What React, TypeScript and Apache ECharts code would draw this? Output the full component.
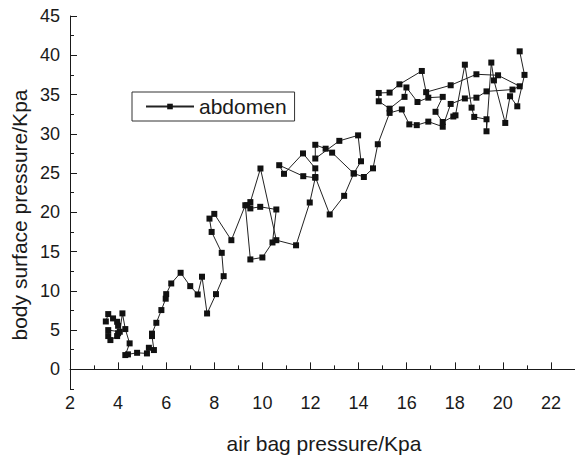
import React, { useEffect, useRef } from "react";
import * as echarts from "echarts";

// air bag pressure (Kpa), in recorded order
const airBagPressure: number[] = [
  3.49, 3.59, 3.79, 3.96, 4.0, 4.0, 3.96, 3.68, 3.59, 3.59, 4.07, 4.18, 4.3, 4.48, 4.3, 4.41, 4.79, 5.2, 5.28, 5.49,
  5.41, 5.41, 5.59, 5.8, 5.98, 6.0, 6.21, 6.6, 7.0, 7.31, 7.49, 7.7, 8.07, 8.39, 8.31, 7.89, 7.8, 8.0, 8.71, 9.29,
  9.5, 10.0, 10.42, 10.58, 9.91, 9.5, 9.37, 9.5, 9.92, 10.58, 11.4, 11.97, 12.2, 11.7, 10.7, 10.9, 11.69, 12.2, 12.2, 12.8,
  13.4, 13.8, 12.9, 12.63, 12.2, 12.2, 13.2, 13.98, 14.1, 13.8, 14.22, 14.6,
  14.8, 15.29, 15.8, 16.11, 16.42, 16.9, 17.5, 17.83, 18.42, 18.9, 19.32, 20.4, 20.7, 19.8, 18.9, 17.83, 16.81, 16.63,
  15.7, 15.29, 14.84, 14.84, 15.29, 15.91, 15.99, 16.45, 16.9, 17.5, 17.2, 17.5, 17.94, 18.03, 18.42, 18.7, 18.81, 19.32,
  19.32, 19.52, 19.63, 20.1, 20.3, 20.6, 20.9, 20.7,
];

// body surface pressure (Kpa), same order
const bodySurfacePressure: number[] = [
  6.1, 7.04, 6.49, 6.06, 5.55, 4.6, 4.24, 3.73, 4.24, 5.0, 4.79, 7.13, 5.13, 3.31, 1.82, 1.91, 2.11, 2.03, 2.75, 2.46,
  4.24, 4.55, 5.93, 7.55, 9.0, 9.58, 10.94, 12.3, 10.6, 9.54, 11.8, 7.12, 9.58, 11.87, 14.84, 17.5, 19.2, 19.8, 16.45, 20.9,
  14.0, 14.25, 16.16, 20.36, 20.7, 20.5, 20.9, 21.3, 25.58, 16.45, 15.8, 21.25, 24.4, 24.6, 26.0, 24.9, 27.5, 25.6, 24.5, 19.73,
  22.1, 24.95, 27.6, 28.1, 28.6, 26.85, 29.1, 29.8, 26.5, 24.95, 24.5, 25.6,
  28.67, 32.66, 33.1, 31.2, 31.1, 31.55, 30.9, 33.8, 34.5, 34.6, 35.4, 35.63, 36.05, 37.45, 37.58, 36.18, 35.3, 38.0,
  36.3, 35.25, 35.2, 34.14, 33.2, 34.7, 35.9, 34.05, 34.6, 34.7, 32.8, 31.5, 32.2, 32.35, 38.8, 33.33, 32.15, 31.85,
  30.32, 39.07, 36.8, 31.38, 34.78, 33.5, 37.5, 40.5,
];

const seriesName = "abdomen";
const xTitle = "air bag pressure/Kpa";
const yTitle = "body surface pressure/Kpa";

const FONT = "'Liberation Sans', Arial, Helvetica, sans-serif";
const INK = "#1a1a1a";

export default function App() {
  const ref = useRef<HTMLDivElement>(null);

  useEffect(() => {
    if (!ref.current) return;
    const chart = echarts.init(ref.current, undefined, { renderer: "svg" });
    const data = airBagPressure.map((x, i) => [x, bodySurfacePressure[i]]);

    const axisLine = { show: true, lineStyle: { color: INK, width: 1 } };

    chart.setOption({
      animation: false,
      backgroundColor: "#ffffff",
      grid: { left: 70, top: 16, width: 507, height: 373, containLabel: false },
      legend: {
        show: true,
        left: 132,
        top: 92,
        orient: "horizontal",
        borderColor: "#333",
        borderWidth: 1,
        padding: [4, 8, 4, 13],
        itemWidth: 48,
        itemHeight: 7,
        itemGap: 5,
        textStyle: { fontFamily: FONT, fontSize: 21, color: INK, lineHeight: 21 },
        data: [seriesName],
      },
      xAxis: [
        {
          type: "value",
          position: "bottom",
          min: 2,
          max: 23,
          interval: 2,
          axisLine,
          axisTick: { show: true, inside: true, length: 7, lineStyle: { color: INK } },
          axisLabel: { fontFamily: FONT, fontSize: 18, color: INK, margin: 5, showMaxLabel: false },
          splitLine: { show: false },
        },
        {
          type: "value",
          position: "bottom",
          min: 2,
          max: 23,
          interval: 1,
          axisLine: { show: false },
          axisTick: { show: true, inside: true, length: 4, lineStyle: { color: INK } },
          axisLabel: { show: false },
          splitLine: { show: false },
        },
      ],
      yAxis: [
        {
          type: "value",
          position: "left",
          min: -2.5,
          max: 45,
          splitNumber: 10,
          axisLine,
          axisTick: { show: true, inside: true, length: 7, lineStyle: { color: INK } },
          axisLabel: { fontFamily: FONT, fontSize: 18, color: INK, margin: 10, showMinLabel: false },
          splitLine: { show: false },
        },
        {
          type: "value",
          position: "left",
          min: -2.5,
          max: 45,
          interval: 2.5,
          axisLine: { show: false },
          axisTick: { show: true, inside: true, length: 4, lineStyle: { color: INK } },
          axisLabel: { show: false },
          splitLine: { show: false },
        },
      ],
      graphic: [
        {
          type: "text",
          x: 324,
          y: 443,
          style: {
            text: xTitle,
            fontFamily: FONT,
            fontSize: 21,
            fill: INK,
            textAlign: "center",
            textVerticalAlign: "middle",
          },
        },
        {
          type: "text",
          x: 19,
          y: 215,
          rotation: Math.PI / 2,
          style: {
            text: yTitle,
            fontFamily: FONT,
            fontSize: 21,
            fill: INK,
            textAlign: "center",
            textVerticalAlign: "middle",
          },
        },
      ],
      series: [
        {
          name: seriesName,
          type: "line",
          xAxisIndex: 0,
          yAxisIndex: 0,
          data,
          symbol: "rect",
          symbolSize: 6,
          showAllSymbol: true,
          lineStyle: { color: "#222", width: 1 },
          itemStyle: { color: "#111", borderWidth: 0 },
          emphasis: { disabled: true },
        },
      ],
    });

    return () => chart.dispose();
  }, []);

  return (
    <div
      ref={ref}
      style={{ position: "fixed", left: 0, top: 0, width: 575, height: 461, background: "#fff" }}
    />
  );
}
